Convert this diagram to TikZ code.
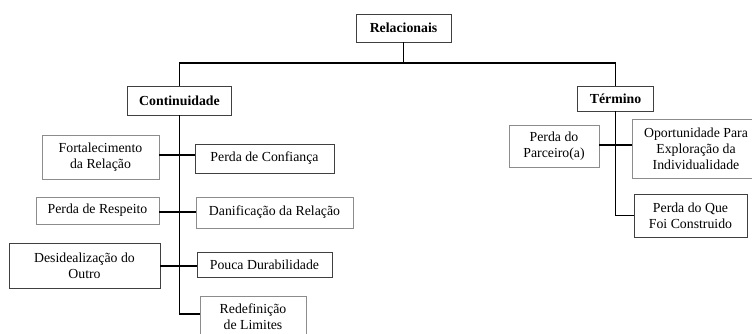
\documentclass[tikz,border=0pt]{standalone}
\usepackage{fontspec}
\setmainfont{Liberation Serif}
\begin{document}
\begin{tikzpicture}[x=1pt,y=1pt,
  boxd/.style={draw=black!75, line width=0.8pt, fill=white, align=center, inner sep=0pt,
    font=\fontsize{13.8}{16}\selectfont},
  boxl/.style={boxd, draw=black!45},
  title/.style={boxd, font=\fontsize{13.8}{16}\selectfont\bfseries},
  conn/.style={line width=1.2pt, black}]
\useasboundingbox (0,0) rectangle (752,-333);
\fill[white] (0,0) rectangle (752,-333);
% level 0 and 1
\node[title, minimum width=95pt, minimum height=28pt] (rel) at (403.5,-28) {Relacionais};
\node[title, minimum width=104pt, minimum height=29pt] (cont) at (179.5,-100.5) {Continuidade};
\node[title, minimum width=76pt, minimum height=25pt] (term) at (615.5,-98.5) {Término};
% Continuidade children
\node[boxl, minimum width=117pt, minimum height=44pt] (fort) at (100.5,-157) {Fortalecimento\\da Relação};
\node[boxd, minimum width=139pt, minimum height=29pt] (conf) at (264.5,-158.5) {Perda de Confiança};
\node[boxl, minimum width=123pt, minimum height=27pt] (resp) at (97.5,-210.5) {Perda de Respeito};
\node[boxl, minimum width=157pt, minimum height=31pt] (danif) at (274.5,-212.5) {Danificação da Relação};
\node[boxd, minimum width=151pt, minimum height=45pt] (desid) at (84.5,-265.5) {Desidealização do\\Outro};
\node[boxd, minimum width=135pt, minimum height=25pt] (pouca) at (264.5,-264.5) {Pouca Durabilidade};
\node[boxl, minimum width=106pt, minimum height=42pt] (redef) at (253,-317) {Redefinição\\de Limites};
% Término children
\node[boxl, minimum width=90pt, minimum height=42pt] (parc) at (554,-146) {Perda do\\Parceiro(a)};
\node[boxl, minimum width=128pt, minimum height=59pt] (oport) at (696,-148.5) {Oportunidade Para\\Exploração da\\Individualidade};
\node[boxd, minimum width=113pt, minimum height=43pt] (cons) at (690.5,-215.5) {Perda do Que\\Foi Construido};
% connectors
\coordinate (hub) at (403.5,-63);
\draw[conn] (rel.south) -- (hub);
\draw[conn] (cont.north) |- (hub) -| (term.north);
\draw[conn] (cont.south) |- (redef.west |- 0,-314);
\draw[conn] (fort.east |- 0,-155) -- (conf.west |- 0,-155);
\draw[conn] (resp.east |- 0,-212) -- (danif.west |- 0,-212);
\draw[conn] (desid.east |- 0,-266) -- (pouca.west |- 0,-266);
\draw[conn] (term.south) |- (cons.west);
\draw[conn] (parc.east |- 0,-145) -- (oport.west |- 0,-145);
\end{tikzpicture}
\end{document}
